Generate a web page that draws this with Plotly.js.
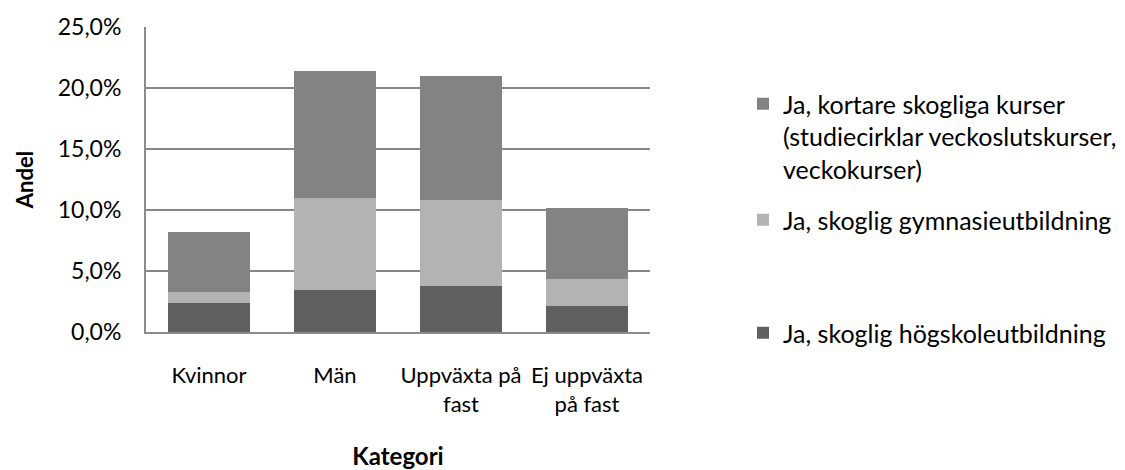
<!DOCTYPE html>
<html>
<head>
<meta charset="utf-8">
<script src="https://cdn.plot.ly/plotly-3.0.1.min.js"></script>
<style>html,body{margin:0;padding:0;background:#fff;}#chart{width:1125px;height:470px;}</style>
</head>
<body>
<div id="chart"></div>
<script>
const categories = ["Kvinnor", "Män", "Uppväxta på<br>fast", "Ej uppväxta<br>på fast"];
const hogskola = [0.0241, 0.0342, 0.0380, 0.0216];
const gymnasie = [0.0085, 0.0758, 0.0704, 0.0219];
const kortare  = [0.0495, 0.1037, 0.1018, 0.0580];
const seriesNames = [
  "Ja, skoglig högskoleutbildning",
  "Ja, skoglig gymnasieutbildning",
  "Ja, kortare skogliga kurser<br>(studiecirklar veckoslutskurser,<br>veckokurser)"
];
const yTicks = [0, 0.05, 0.10, 0.15, 0.20, 0.25];

const FONT = "Lato, 'Open Sans', sans-serif";

const traces = [
  {type:"bar", x:categories, y:hogskola, name:seriesNames[0], marker:{color:"#606060"}, legend:"legend3"},
  {type:"bar", x:categories, y:gymnasie, name:seriesNames[1], marker:{color:"#b3b3b3"}, legend:"legend2"},
  {type:"bar", x:categories, y:kortare, name:seriesNames[2], marker:{color:"#838383"}, legend:"legend"}
];

const legendBase = {xref:"container", yref:"container", x:743/1125, xanchor:"left", yanchor:"middle",
  font:{family:FONT, size:25, color:"#000"}, bgcolor:"rgba(0,0,0,0)", valign:"top"};

const layout = {
  width:1125, height:470,
  margin:{l:146, r:475, t:27, b:138},
  paper_bgcolor:"#fff", plot_bgcolor:"#fff",
  font:{family:FONT, size:20, color:"#000"},
  separators:", ",
  barmode:"stack",
  bargap:0.357,
  xaxis:{
    type:"category",
    showline:true, linecolor:"#8c8c8c", linewidth:2,
    showgrid:false, ticks:"",
    tickfont:{family:FONT, size:22, color:"#000"},
    ticklabelstandoff:23,
    title:{text:"<b>Kategori</b>", font:{family:FONT, size:24, color:"#000"}, standoff:36},
    fixedrange:true
  },
  yaxis:{
    range:[0, 0.25], tickvals:yTicks, tickformat:".1%",
    showline:true, linecolor:"#8c8c8c", linewidth:2,
    showgrid:true, gridcolor:"#878787", gridwidth:1.5,
    zeroline:false, ticks:"",
    tickfont:{family:FONT, size:23, color:"#000"},
    ticklabelstandoff:18,
    title:{text:"<b>Andel</b>", font:{family:FONT, size:22, color:"#000"}, standoff:18},
    fixedrange:true
  },
  legend: Object.assign({}, legendBase, {y:1 - 136.5/470}),
  legend2: Object.assign({}, legendBase, {y:1 - 220/470}),
  legend3: Object.assign({}, legendBase, {y:1 - 333/470}),
  showlegend:true
};

Plotly.newPlot("chart", traces, layout, {displayModeBar:false, staticPlot:true});
</script>
</body>
</html>
